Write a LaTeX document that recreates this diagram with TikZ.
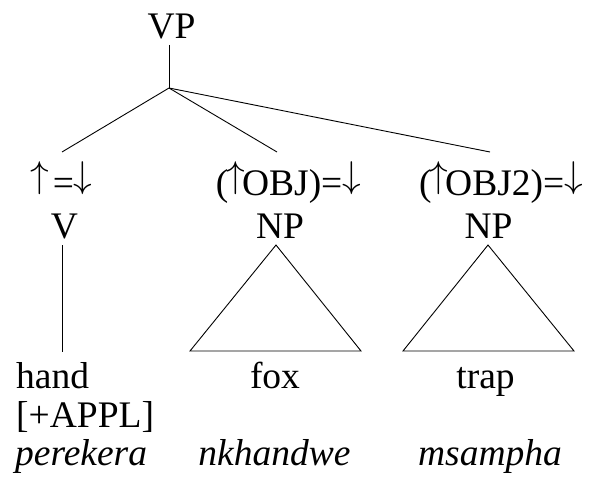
\documentclass[tikz,border=0pt]{standalone}
\usepackage{fontspec}
\setmainfont{Liberation Serif}
% tall thin arrows resting on the baseline
\newcommand{\upar}{\scalebox{1.5}{\fontsize{24.88}{30}\selectfont\raisebox{4.8pt}{$\uparrow$}}}
\newcommand{\dnar}{\scalebox{1.5}{\fontsize{24.88}{30}\selectfont\raisebox{4.8pt}{$\downarrow$}}}
\begin{document}
\begin{tikzpicture}[x=1pt,y=-1pt,
  lbl/.style={inner sep=0pt,anchor=base,font=\fontsize{37.5}{44}\selectfont},
  lbll/.style={lbl,anchor=base west},
  edge/.style={line width=0.9pt,black}]
\useasboundingbox (0,0) rectangle (589,484);

% category labels
\node[lbl] (vp) at (171.5,39) {VP};
\node[lbl] (a1) at (61,195) {\upar\kern4pt=\kern-1pt\dnar};
\node[lbl] (a2) at (288.5,195) {(\kern-2pt\upar\kern-3pt OBJ)=\dnar};
\node[lbl] (a3) at (501,195) {(\kern-2pt\upar\kern-3pt OBJ2)=\dnar};
\node[lbl] (v) at (64.5,238) {V};
\node[lbl] (np1) at (280,238) {NP};
\node[lbl] (np2) at (488.5,238) {NP};

% terminal words and glosses
\node[lbll] (w1) at (16,388) {hand};
\node[lbll] (w1b) at (16,427) {[+APPL]};
\node[lbll] (g1) at (15,465) {\itshape perekera};
\node[lbl] (w2) at (275,388) {fox};
\node[lbl] (g2) at (274.5,465) {\itshape nkhandwe};
\node[lbl] (w3) at (485.5,388) {trap};
\node[lbl] (g3) at (490,465) {\itshape msampha};

% branching points
\coordinate (vptop) at (169,45);
\coordinate (br) at (169,88);
\coordinate (e1) at (62,152);
\coordinate (e2) at (277,152);
\coordinate (e3) at (490,152);
\coordinate (vt) at (62,245);
\coordinate (vb) at (62,352);
\coordinate (t1) at (276,245);
\coordinate (t1l) at (190,351);
\coordinate (t1r) at (361,351);
\coordinate (t2) at (488,245);
\coordinate (t2l) at (403,351);
\coordinate (t2r) at (574,351);

\draw[edge] (vptop) -- (br);
\draw[edge] (br) -- (e1);
\draw[edge] (br) -- (e2);
\draw[edge] (br) -- (e3);
\draw[edge] (vt) -- (vb);
\draw[edge,line join=miter] (t1) -- (t1l) -- (t1r) -- cycle;
\draw[edge,line join=miter] (t2) -- (t2l) -- (t2r) -- cycle;
\end{tikzpicture}
\end{document}
